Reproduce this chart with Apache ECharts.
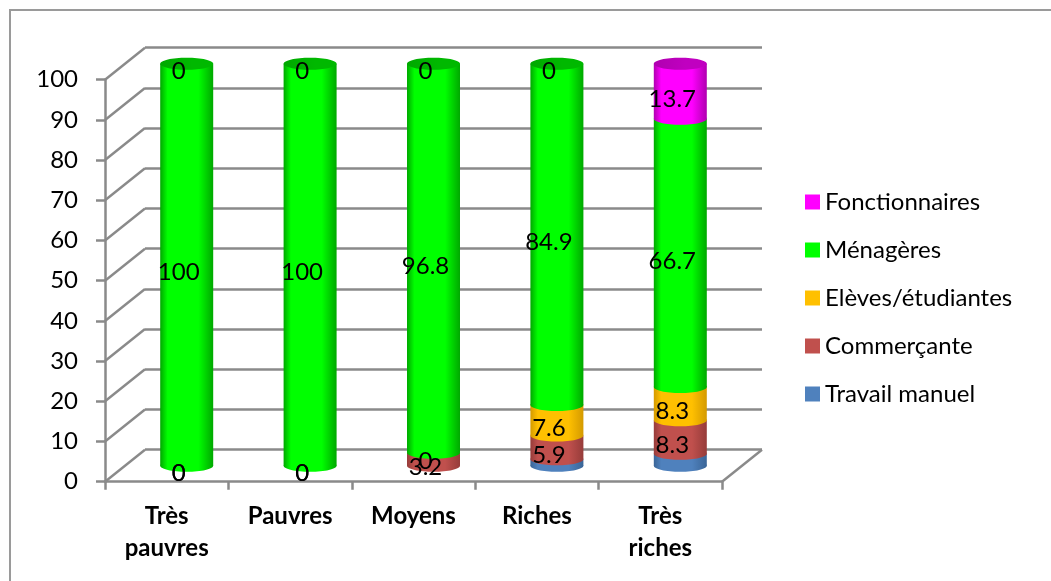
<!DOCTYPE html>
<html>
<head>
<meta charset="utf-8">
<title>Profession par niveau de richesse</title>
<script src="https://cdn.jsdelivr.net/npm/echarts@6/dist/echarts.min.js"></script>
<style>
  html, body { margin: 0; padding: 0; background: #fff; }
  #chart { width: 1051px; height: 581px; }
</style>
</head>
<body>
<div id="chart"></div>
<script>
// Wealth categories (x axis)
const categories = ['Très pauvres', 'Pauvres', 'Moyens', 'Riches', 'Très riches'];

// Share of each occupation per category (%), stacked bottom to top
const travailManuel  = [0, 0, 0, 1.6, 3.0];
const commercante    = [0, 0, 3.2, 5.9, 8.3];
const eleves         = [0, 0, 0, 7.6, 8.3];
const menageres      = [100, 100, 96.8, 84.9, 66.7];
const fonctionnaires = [0, 0, 0, 0, 13.7];

const seriesNames = ['Travail manuel', 'Commerçante', 'Elèves/étudiantes', 'Ménagères', 'Fonctionnaires'];
const seriesValues = [travailManuel, commercante, eleves, menageres, fonctionnaires];
const legendOrder = ['Fonctionnaires', 'Ménagères', 'Elèves/étudiantes', 'Commerçante', 'Travail manuel'];

// y axis range
const Y_MIN = 0, Y_MAX = 100, Y_STEP = 10;

// ---- styling ----
const FONT = 'Lato, "Open Sans", sans-serif';
const FONT_SIZE = 24;
const AXIS_GRAY = '#8a8a8a';
const DEPTH_X = 40, DEPTH_Y = -32;        // front plane -> back wall
const R = 26.5, RY = 6;                   // cylinder radii
const LABEL_DX = 12, LABEL_DY = -8;       // data label plane
const palette = {
  'Travail manuel':    { base: '#4F81BD', dark: '#3A6597', cap: '#3F6EA6' },
  'Commerçante':       { base: '#C0504D', dark: '#963C3A', cap: '#A34341' },
  'Elèves/étudiantes': { base: '#FFC000', dark: '#D49A00', cap: '#E0A800' },
  'Ménagères':         { base: '#00FF00', dark: '#00A800', cap: '#00B800' },
  'Fonctionnaires':    { base: '#FF00FF', dark: '#B000B0', cap: '#C000C0' }
};
const showLabels = {
  'Travail manuel': false, 'Commerçante': true, 'Elèves/étudiantes': true,
  'Ménagères': true, 'Fonctionnaires': true
};

function bodyFill(c) {
  return new echarts.graphic.LinearGradient(0, 0, 1, 0, [
    { offset: 0, color: c.dark },
    { offset: 0.14, color: c.base },
    { offset: 0.72, color: c.base },
    { offset: 1, color: c.dark }
  ]);
}
function capFill(c) {
  return new echarts.graphic.LinearGradient(0, 0, 1, 0, [
    { offset: 0, color: c.dark },
    { offset: 0.6, color: c.cap },
    { offset: 1, color: c.cap }
  ]);
}

function fmt(v) { return String(v); }

// stacked bases
const bases = seriesValues.map(() => categories.map(() => 0));
categories.forEach((_, i) => {
  let acc = 0;
  seriesValues.forEach((arr, s) => { bases[s][i] = acc; acc += arr[i]; });
});

// is series s the highest non-empty segment of column i?
function isTopSegment(s, i) {
  if (!(seriesValues[s][i] > 0)) return false;
  for (let k = s + 1; k < seriesValues.length; k++) {
    if (seriesValues[k][i] > 0) return false;
  }
  return true;
}

function cylinderSeries(s) {
  const name = seriesNames[s];
  const c = palette[name];
  const data = categories.map((_, i) => [i, bases[s][i], bases[s][i] + seriesValues[s][i], seriesValues[s][i]]);
  return {
    type: 'custom',
    name: name,
    coordinateSystem: 'cartesian2d',
    xAxisIndex: 0, yAxisIndex: 0,
    itemStyle: { color: c.base },
    encode: { x: 0, y: [1, 2] },
    data: data,
    renderItem: function (params, api) {
      const i = api.value(0), lo = api.value(1), hi = api.value(2), v = api.value(3);
      const pLo = api.coord([i, lo]);
      const pHi = api.coord([i, hi]);
      const pMid = api.coord([i, (lo + hi) / 2]);
      const cx = pLo[0] + DEPTH_X / 2;
      const yLo = pLo[1] + DEPTH_Y / 2;
      const yHi = pHi[1] + DEPTH_Y / 2;
      const children = [];
      if (v > 0) {
        children.push({ type: 'ellipse', shape: { cx: cx, cy: yLo, rx: R, ry: RY }, style: { fill: bodyFill(c) } });
        children.push({ type: 'rect', shape: { x: cx - R, y: yHi, width: 2 * R, height: yLo - yHi }, style: { fill: bodyFill(c) } });
        if (isTopSegment(s, i)) {
          children.push({ type: 'ellipse', shape: { cx: cx, cy: yHi, rx: R, ry: RY }, style: { fill: capFill(c) } });
        }
      }
      if (showLabels[name]) {
        children.push({
          type: 'text', z2: 100,
          style: {
            text: fmt(v), x: pMid[0] + LABEL_DX, y: pMid[1] + LABEL_DY,
            align: 'center', verticalAlign: 'middle',
            fontSize: FONT_SIZE, fontFamily: FONT, fill: '#000'
          }
        });
      }
      return { type: 'group', children: children };
    }
  };
}

// side wall and floor edges joining the front axis to the back wall
const wallTicks = [];
for (let v = Y_MIN; v <= Y_MAX; v += Y_STEP) wallTicks.push([0, v]);

const wallSeries = {
  type: 'custom',
  name: 'walls',
  coordinateSystem: 'cartesian2d',
  xAxisIndex: 0, yAxisIndex: 0,
  silent: true,
  z: 1,
  encode: { x: 0, y: 1 },
  data: wallTicks,
  renderItem: function (params, api) {
    const cs = params.coordSys;
    const y = api.coord([0, api.value(1)])[1];
    const lineStyle = { stroke: AXIS_GRAY, lineWidth: 2.5 };
    const children = [{
      type: 'line',
      shape: { x1: cs.x, y1: y, x2: cs.x + DEPTH_X, y2: y + DEPTH_Y },
      style: lineStyle
    }];
    if (api.value(1) === Y_MIN) {
      children.push({
        type: 'line',
        shape: { x1: cs.x + cs.width, y1: y, x2: cs.x + cs.width + DEPTH_X, y2: y + DEPTH_Y },
        style: lineStyle
      });
    }
    return { type: 'group', children: children };
  }
};

const FRONT = { left: 105, top: 79.7, width: 617, height: 402 };

const option = {
  animation: false,
  backgroundColor: '#fff',
  graphic: [{
    type: 'rect', silent: true,
    shape: { x: 10, y: 10, width: 1100, height: 700 },
    style: { fill: 'none', stroke: '#9a9a9a', lineWidth: 2 }
  }],
  legend: {
    orient: 'vertical',
    left: 805, top: 189,
    padding: 0,
    icon: 'rect',
    itemWidth: 15, itemHeight: 15,
    itemGap: 22,
    data: legendOrder,
    selectedMode: false,
    textStyle: { fontSize: FONT_SIZE, fontFamily: FONT, color: '#000', lineHeight: 26 }
  },
  grid: [
    // front plane: axes
    { left: FRONT.left, top: FRONT.top, width: FRONT.width, height: FRONT.height },
    // back wall: gridlines
    { left: FRONT.left + DEPTH_X, top: FRONT.top + DEPTH_Y, width: FRONT.width, height: FRONT.height }
  ],
  xAxis: [{
    gridIndex: 0,
    type: 'category',
    data: categories,
    axisLine: { show: true, lineStyle: { color: AXIS_GRAY, width: 2.5 } },
    axisTick: { show: true, length: 8, lineStyle: { color: AXIS_GRAY, width: 2.5 } },
    axisLabel: {
      interval: 0, margin: 19,
      fontSize: FONT_SIZE, fontWeight: 'bold', fontFamily: FONT, color: '#000', lineHeight: 32,
      formatter: (v) => v.replace(' ', '\n')
    },
    splitLine: { show: false }
  }, {
    gridIndex: 1,
    type: 'value', min: 0, max: 1, show: false
  }],
  yAxis: [{
    gridIndex: 0,
    type: 'value', min: Y_MIN, max: Y_MAX, interval: Y_STEP,
    axisLine: { show: true, lineStyle: { color: AXIS_GRAY, width: 2.5 } },
    axisTick: { show: true, length: 9, lineStyle: { color: AXIS_GRAY, width: 2.5 } },
    axisLabel: { margin: 27, fontSize: FONT_SIZE, fontFamily: FONT, color: '#000' },
    splitLine: { show: false }
  }, {
    gridIndex: 1,
    type: 'value', min: Y_MIN, max: Y_MAX, interval: Y_STEP,
    axisLine: { show: false }, axisTick: { show: false }, axisLabel: { show: false },
    splitLine: { show: true, lineStyle: { color: AXIS_GRAY, width: 2.5 } }
  }],
  series: [wallSeries].concat(seriesNames.map((_, s) => cylinderSeries(s)))
};

const chart = echarts.init(document.getElementById('chart'), null, { renderer: 'canvas' });
chart.setOption(option);
</script>
</body>
</html>
